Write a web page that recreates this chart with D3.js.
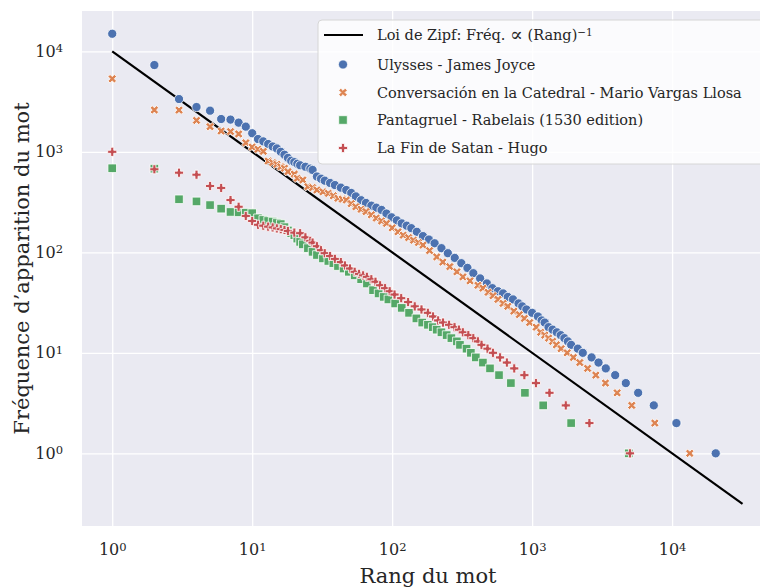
<!DOCTYPE html>
<html>
<head>
<meta charset="utf-8">
<script src="https://cdn.jsdelivr.net/npm/d3@7"></script>
<style>
  body { margin: 0; background: #fff; }
  text { font-family: "DejaVu Serif", serif; fill: #262626; }
</style>
</head>
<body>
<svg id="chart" width="760" height="588"></svg>
<script>
// rank / frequency pairs, one point per distinct frequency
var ulysses = [[1,14950],[2,7300],[3,3350],[4,2790],[5,2565],[6,2120],[7,2090],[8,1950],[9,1780],[10,1530],
  [11,1340],[12,1270],[13,1196],[14,1130],[15,1080],[16,1000],[17,935],[18,870],[19,815],[20,790],[21,760],
  [22,735],[24,710],[26,680],[27,660],[29,568],[31,540],[33,516],[36,490],[39,467],[43,440],[47,417],[51,390],
  [55,360],[60,330],[65,310],[71,291],[77,278],[84,264],[91,243],[99,223],[108,208],[117,194],[127,184],
  [137,174],[150,160],[166,145],[183,134],[201,123],[225,110],[250,98],[280,88],[312,78],[345,70],[380,62],
  [425,55],[475,49],[520,44],[570,41],[620,39],[670,36],[730,34],[800,31],[850,29],[910,27],[1000,25],
  [1100,23],[1170,21],[1230,20],[1310,18],[1400,17],[1500,16],[1600,15],[1700,14],[1800,13],[1900,12],
  [2120,11],[2300,10],[2660,9],[2980,8],[3360,7],[3920,6],[4670,5],[5720,4],[7400,3],[10740,2],[20500,1]];

var conversacion = [[1,5330],[2,2610],[3,2600],[4,2055],[5,1780],[6,1610],[7,1590],[8,1505],[9,1230],[10,1115],
  [11,1060],[12,1010],[13,810],[14,780],[15,750],[16,710],[17,686],[18,635],[20,600],[21,545],[23,525],[25,450],
  [27,440],[29,417],[32,400],[35,386],[38,365],[41,345],[44,338],[47,331],[51,305],[55,284],[60,268],[65,254],
  [71,236],[77,219],[84,205],[91,194],[100,175],[110,160],[120,148],[131,140],[142,132],[154,125],[166,118],
  [185,104],[208,90],[230,80],[258,72],[290,64],[320,57],[360,52],[410,47],[445,44],[485,40],[525,37],
  [570,34],[620,31],[670,29],[740,26],[810,24],[880,22],[960,20],[1070,18],[1150,16],[1230,15],[1310,14],
  [1400,13],[1490,12],[1610,11],[1780,10],[1970,9],[2190,8],[2490,7],[2850,6],[3340,5],[4050,4],[5150,3],
  [7520,2],[13370,1]];

var pantagruel = [[1,686],[2,680],[3,337],[4,321],[5,295],[6,272],[7,252],[8,250],[9,248],[10,245],[11,218],
  [12,210],[13,205],[14,202],[15,196],[16,191],[17,178],[18,165],[19,155],[20,148],[21,137],[22,127],[23,120],
  [25,110],[27,101],[29,94],[32,87],[35,82],[38,78],[41,73],[45,69],[49,64],[54,59],[60,54],[66,49],[73,42],
  [80,39],[87,36],[94,34],[105,31],[117,28],[132,25],[149,22],[164,20],[180,19],[195,18],[208,17],[225,16],
  [245,15],[265,14],[290,13],[305,12],[340,11],[365,10],[396,9],[445,8],[500,7],[580,6],[705,5],[888,4],
  [1200,3],[1900,2],[4900,1]];

var finDeSatan = [[1,1000],[2,670],[3,620],[4,592],[5,457],[6,437],[7,331],[8,284],[9,230],[10,205],[11,188],
  [12,184],[13,180],[14,177],[15,173],[16,170],[17,167],[18,163],[20,157],[22,155],[24,141],[26,130],[27,125],
  [29,115],[31,105],[33,98],[36,92],[39,86],[43,80],[46,74],[50,69],[54,64],[58,61],[62,59],[66,57],[71,54],
  [76,51],[82,47],[89,44],[96,41],[104,38],[116,35],[130,32],[145,29],[162,27],[180,25],[196,23],[213,21],
  [231,20],[255,19],[279,18],[300,17],[320,16],[350,15],[380,14],[410,13],[435,12],[480,11],[525,10],
  [590,9],[660,8],[745,7],[880,6],[1065,5],[1330,4],[1740,3],[2565,2],[5000,1]];

// Zipf reference line: freq = 10^4 / rank
var zipfRanks = [1, 31850];
var zipfConst = 10000;

var seriesNames = ["Ulysses - James Joyce", "Conversación en la Catedral - Mario Vargas Llosa",
  "Pantagruel - Rabelais (1530 edition)", "La Fin de Satan - Hugo"];
var seriesData = [ulysses, conversacion, pantagruel, finDeSatan];
var seriesColors = ["#4C72B0", "#DD8452", "#55A868", "#C44E52"];
var decades = [1, 10, 100, 1000, 10000];

var svg = d3.select("#chart");
var plot = {left: 82, top: 11, right: 774, bottom: 526};

var x = d3.scaleLog()
  .domain([Math.pow(10, -0.216), Math.pow(10, 4.728)])
  .range([plot.left, plot.right]);
var y = d3.scaleLog()
  .domain([Math.pow(10, -0.723), Math.pow(10, 4.401)])
  .range([plot.bottom, plot.top]);

svg.append("rect")
  .attr("x", plot.left).attr("y", plot.top)
  .attr("width", plot.right - plot.left).attr("height", plot.bottom - plot.top)
  .attr("fill", "#EAEAF2");

// "10" with the exponent raised
function powLabel(sel, d) {
  var e = Math.round(Math.log10(d));
  sel.text("10");
  sel.append("tspan").attr("dy", "-0.42em").attr("font-size", "0.72em").text(e);
}

var gx = svg.append("g")
  .attr("transform", "translate(0," + plot.bottom + ")")
  .call(d3.axisBottom(x).tickValues(decades).tickFormat("")
    .tickSize(-(plot.bottom - plot.top)).tickPadding(18));
gx.attr("font-family", null).attr("font-size", null);
gx.select(".domain").remove();
gx.selectAll(".tick line").attr("stroke", "#fff").attr("stroke-width", 1.3);
gx.selectAll(".tick text").attr("font-size", 16).each(function(d) { powLabel(d3.select(this), d); });

var gy = svg.append("g")
  .attr("transform", "translate(" + plot.left + ",0)")
  .call(d3.axisLeft(y).tickValues(decades).tickFormat("")
    .tickSize(-(plot.right - plot.left)).tickPadding(19));
gy.attr("font-family", null).attr("font-size", null);
gy.select(".domain").remove();
gy.selectAll(".tick line").attr("stroke", "#fff").attr("stroke-width", 1.3);
gy.selectAll(".tick text").attr("font-size", 16).each(function(d) { powLabel(d3.select(this), d); });

// axis titles
svg.append("text")
  .attr("x", (plot.left + plot.right) / 2).attr("y", 583)
  .attr("text-anchor", "middle").attr("font-size", 21)
  .text("Rang du mot");
svg.append("text")
  .attr("transform", "translate(29," + ((plot.top + plot.bottom) / 2) + ") rotate(-90)")
  .attr("text-anchor", "middle").attr("font-size", 21)
  .text("Fréquence d’apparition du mot");

var line = d3.line()
  .x(function(r) { return x(r); })
  .y(function(r) { return y(zipfConst / r); });
svg.append("path")
  .datum(zipfRanks)
  .attr("d", line)
  .attr("fill", "none").attr("stroke", "#000").attr("stroke-width", 2.2);

// marker shapes: circle, filled X, square, filled plus
var shapes = [
  {type: d3.symbolCircle, size: 66, rot: 0},
  {type: d3.symbolCross, size: 46, rot: 45},
  {type: d3.symbolSquare, size: 74, rot: 0},
  {type: d3.symbolCross, size: 46, rot: 0}
];

seriesData.forEach(function(pts, i) {
  var sh = shapes[i];
  svg.append("g")
    .selectAll("path")
    .data(pts).enter()
    .append("path")
    .attr("d", d3.symbol().type(sh.type).size(sh.size))
    .attr("transform", function(d) {
      return "translate(" + x(d[0]) + "," + y(d[1]) + ") rotate(" + sh.rot + ")";
    })
    .attr("fill", seriesColors[i])
    .attr("stroke", "#fff").attr("stroke-width", 0.8);
});

// legend
var lg = svg.append("g").attr("transform", "translate(318,20)");
lg.append("rect")
  .attr("width", 449).attr("height", 144).attr("rx", 4)
  .attr("fill", "#fff").attr("fill-opacity", 0.8)
  .attr("stroke", "#d6d6d6").attr("stroke-width", 1);
var rowY = [15, 44.5, 72.5, 100, 128];
lg.append("line")
  .attr("x1", 6).attr("x2", 45).attr("y1", rowY[0]).attr("y2", rowY[0])
  .attr("stroke", "#000").attr("stroke-width", 2.2);
var zipfLabel = lg.append("text")
  .attr("x", 59).attr("y", rowY[0]).attr("dy", "0.35em").attr("font-size", 14.5);
zipfLabel.append("tspan").text("Loi de Zipf: Fréq. ");
zipfLabel.append("tspan").attr("font-size", 19).attr("dy", "0.04em").text("∝");
zipfLabel.append("tspan").attr("dy", "-0.04em").text(" (Rang)");
zipfLabel.append("tspan").attr("dy", "-0.45em").attr("font-size", "0.72em").text("−1");

seriesNames.forEach(function(name, i) {
  var sh = shapes[i];
  var ry = rowY[i + 1];
  lg.append("path")
    .attr("d", d3.symbol().type(sh.type).size(sh.size))
    .attr("transform", "translate(25," + ry + ") rotate(" + sh.rot + ")")
    .attr("fill", seriesColors[i])
    .attr("stroke", "#fff").attr("stroke-width", 0.8);
  lg.append("text")
    .attr("x", 59).attr("y", ry).attr("dy", "0.35em").attr("font-size", 14.5)
    .text(name);
});
</script>
</body>
</html>
